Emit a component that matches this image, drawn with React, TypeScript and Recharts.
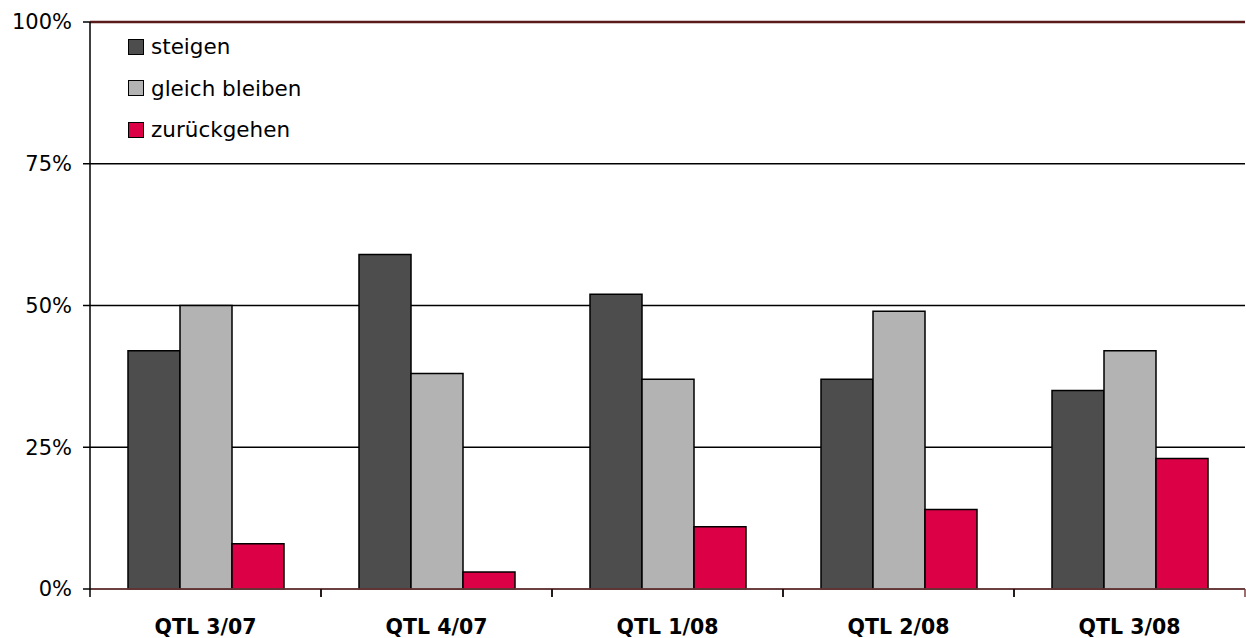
import React from 'react'
import { BarChart, Bar, XAxis, YAxis, CartesianGrid, Legend, ReferenceLine } from 'recharts'

const quarters = ['QTL 3/07', 'QTL 4/07', 'QTL 1/08', 'QTL 2/08', 'QTL 3/08']
const steigen = [42, 59, 52, 37, 35]
const gleichBleiben = [50, 38, 37, 49, 42]
const zurueckgehen = [8, 3, 11, 14, 23]
const yTicks = [0, 25, 50, 75, 100]

const seriesInfo = [
  { key: 'steigen', name: 'steigen', color: '#4d4d4d' },
  { key: 'gleich', name: 'gleich bleiben', color: '#b3b3b3' },
  { key: 'zurueck', name: 'zurückgehen', color: '#dc0047' },
]

const data = quarters.map((q, i) => ({
  quarter: q,
  steigen: steigen[i],
  gleich: gleichBleiben[i],
  zurueck: zurueckgehen[i],
}))

const W = 1246
const H = 638
const LEFT = 90
const RIGHT_M = 1
const PLOT_W = W - LEFT - RIGHT_M
const HALF_BAND = PLOT_W / quarters.length / 2
const FONT = '"DejaVu Sans", Verdana, sans-serif'

function XTick(props: any) {
  const { x, y, payload } = props
  return (
    <g>
      <line x1={x - HALF_BAND} x2={x - HALF_BAND} y1={y} y2={y + 8} stroke="#000" strokeWidth={1.5} />
      <line x1={x + HALF_BAND} x2={x + HALF_BAND} y1={y} y2={y + 8} stroke="#7a4040" strokeWidth={1.5} />
      <text x={x} y={y + 45} textAnchor="middle" fontSize={20.5} fontWeight="bold" fill="#000" fontFamily={FONT}>
        {payload.value}
      </text>
    </g>
  )
}

function LegendBox() {
  return (
    <div style={{ fontFamily: FONT, fontSize: 21.5, color: '#000', lineHeight: 1 }}>
      {seriesInfo.map((s) => (
        <div key={s.key} style={{ display: 'flex', alignItems: 'center', height: 41.5 }}>
          <span
            style={{
              display: 'inline-block',
              width: 14,
              height: 14,
              background: s.color,
              border: '1.5px solid #000',
              marginRight: 7,
            }}
          />
          <span>{s.name}</span>
        </div>
      ))}
    </div>
  )
}

export default function App() {
  return (
    <div style={{ width: W, height: H, background: '#fff', position: 'relative' }}>
      <style>{`body{margin:0}`}</style>
      <BarChart
        width={W}
        height={H}
        data={data}
        margin={{ top: 22, right: RIGHT_M, left: 0, bottom: 0 }}
        barGap={0}
        barSize={52}
      >
        <CartesianGrid vertical={false} stroke="#000" strokeWidth={1.5} />
        <ReferenceLine y={100} stroke="#5a1a1a" strokeWidth={2.5} />
        <XAxis
          dataKey="quarter"
          height={49}
          tickLine={false}
          tickSize={0}
          tickMargin={0}
          axisLine={{ stroke: '#7a4040', strokeWidth: 1.5 }}
          tick={<XTick />}
          interval={0}
        />
        <YAxis
          domain={[0, 100]}
          ticks={yTicks}
          width={LEFT}
          tickFormatter={(v: number) => `${v}%`}
          tick={{ fill: '#000', fontSize: 21, fontFamily: FONT }}
          tickLine={{ stroke: '#000', strokeWidth: 1.5 }}
          tickSize={7}
          tickMargin={11}
          axisLine={{ stroke: '#000', strokeWidth: 1.5 }}
        />
        <YAxis
          yAxisId="right"
          orientation="right"
          width={0}
          tick={false}
          tickLine={false}
          axisLine={{ stroke: '#7a4040', strokeWidth: 1.5 }}
        />
        <Legend
          layout="vertical"
          align="center"
          verticalAlign="middle"
          content={<LegendBox />}
          wrapperStyle={{ left: 128, top: 26, width: 'auto' }}
        />
        {seriesInfo.map((s) => (
          <Bar
            key={s.key}
            dataKey={s.key}
            name={s.name}
            fill={s.color}
            stroke="#000"
            strokeWidth={1.5}
            isAnimationActive={false}
          />
        ))}
      </BarChart>
    </div>
  )
}
